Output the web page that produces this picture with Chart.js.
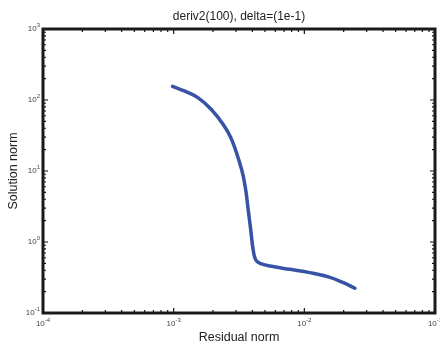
<!DOCTYPE html>
<html>
<head>
<meta charset="utf-8">
<script src="https://cdn.jsdelivr.net/npm/chart.js@4/dist/chart.umd.min.js"></script>
<style>
  html, body { margin: 0; padding: 0; background: #fff; }
  #wrap { width: 440px; height: 346px; position: relative; }
</style>
</head>
<body>
<div id="wrap"><canvas id="c"></canvas></div>
<script>
// L-curve values
const residual = [9.8e-4, 1.22e-3, 1.54e-3, 1.95e-3, 2.40e-3, 2.78e-3, 3.32e-3, 3.56e-3, 3.72e-3,
  3.89e-3, 4.06e-3, 4.25e-3, 4.58e-3, 5.46e-3, 7.76e-3, 1.10e-2, 1.57e-2, 1.99e-2, 2.44e-2];
const solution = [156, 133, 107, 73, 44.9, 27.6, 10.3, 5.4, 2.82,
  1.48, 0.77, 0.557, 0.501, 0.459, 0.412, 0.370, 0.318, 0.267, 0.223];

const xTickExps = [-4, -3, -2, -1];
const yTickExps = [-1, 0, 1, 2, 3];

const titleText = 'deriv2(100), delta=(1e-1)';
const xLabel = 'Residual norm';
const yLabel = 'Solution norm';

const FONT = '"Liberation Sans", Arial, Helvetica, sans-serif';

function minorValues(lo, hi) {
  const out = [];
  for (let d = lo; d < hi; d++) {
    for (let k = 1; k <= 9; k++) out.push({ v: k * Math.pow(10, d), major: k === 1 });
  }
  out.push({ v: Math.pow(10, hi), major: true });
  return out;
}

function drawPow(ctx, exp, x, y, align) {
  ctx.font = '8px ' + FONT;
  const wb = ctx.measureText('10').width;
  ctx.font = '6px ' + FONT;
  const we = ctx.measureText(String(exp)).width;
  const w = wb + we;
  let left = align === 'right' ? x - w : x - w / 2;
  ctx.textBaseline = 'middle';
  ctx.textAlign = 'left';
  ctx.font = '8px ' + FONT;
  ctx.fillText('10', left, y);
  ctx.font = '6px ' + FONT;
  ctx.fillText(String(exp), left + wb, y - 4);
}

const framePlugin = {
  id: 'frame',
  afterDatasetsDraw(chart) {
    const ctx = chart.ctx;
    const a = chart.chartArea;
    const xs = chart.scales.x, ys = chart.scales.y;
    ctx.save();

    // tick marks on all four sides
    ctx.strokeStyle = '#111';
    ctx.lineWidth = 1.2;
    minorValues(-4, -1).forEach(t => {
      const px = xs.getPixelForValue(t.v);
      const len = t.major ? 5 : 3;
      ctx.beginPath();
      ctx.moveTo(px, a.bottom); ctx.lineTo(px, a.bottom - len);
      ctx.moveTo(px, a.top); ctx.lineTo(px, a.top + len);
      ctx.stroke();
    });
    minorValues(-1, 3).forEach(t => {
      const py = ys.getPixelForValue(t.v);
      const len = t.major ? 5 : 3;
      ctx.beginPath();
      ctx.moveTo(a.left, py); ctx.lineTo(a.left + len, py);
      ctx.moveTo(a.right, py); ctx.lineTo(a.right - len, py);
      ctx.stroke();
    });

    // box
    ctx.strokeStyle = '#1a1a1a';
    ctx.lineWidth = 3;
    ctx.strokeRect(a.left, a.top, a.right - a.left, a.bottom - a.top);

    // tick labels
    ctx.fillStyle = '#444';
    xTickExps.forEach(e => drawPow(ctx, e, xs.getPixelForValue(Math.pow(10, e)), a.bottom + 11, 'center'));
    yTickExps.forEach(e => drawPow(ctx, e, a.left - 3, ys.getPixelForValue(Math.pow(10, e)), 'right'));

    // titles
    ctx.fillStyle = '#222';
    ctx.textAlign = 'center';
    ctx.textBaseline = 'middle';
    ctx.font = '12px ' + FONT;
    const cx = (a.left + a.right) / 2;
    ctx.fillText(titleText, cx, 17);
    ctx.font = '12.5px ' + FONT;
    ctx.fillText(xLabel, cx, 338);
    ctx.save();
    ctx.translate(14, (a.top + a.bottom) / 2);
    ctx.rotate(-Math.PI / 2);
    ctx.fillText(yLabel, 0, 0);
    ctx.restore();

    ctx.restore();
  }
};

new Chart(document.getElementById('c'), {
  type: 'line',
  data: {
    datasets: [{
      data: residual.map((r, i) => ({ x: r, y: solution[i] })),
      borderColor: '#3852a6',
      borderWidth: 3.5,
      pointRadius: 0,
      tension: 0.4,
      borderCapStyle: 'round',
      borderJoinStyle: 'round',
      fill: false
    }]
  },
  options: {
    responsive: true,
    maintainAspectRatio: false,
    animation: false,
    layout: { padding: { left: 43, right: 5, top: 29, bottom: 33 } },
    plugins: { legend: { display: false }, tooltip: { enabled: false } },
    scales: {
      x: { type: 'logarithmic', min: 1e-4, max: 1e-1, display: false },
      y: { type: 'logarithmic', min: 1e-1, max: 1e3, display: false }
    }
  },
  plugins: [framePlugin]
});
</script>
</body>
</html>
